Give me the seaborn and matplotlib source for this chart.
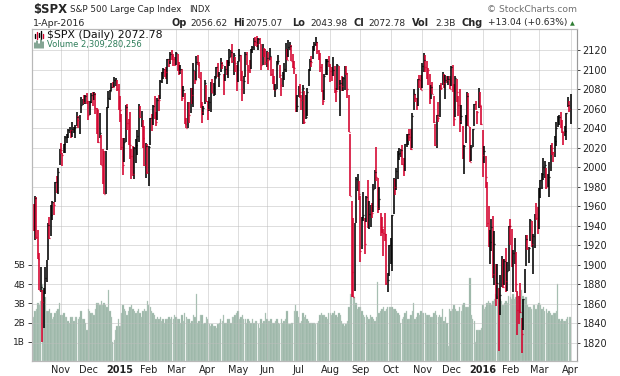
import numpy as np
import pandas as pd
import matplotlib
matplotlib.use("Agg")
import matplotlib.pyplot as plt
import seaborn as sns

# trading calendar (Oct 7 2014 -> Apr 1 2016)
holidays = ["2014-11-27", "2014-12-25", "2015-01-01", "2015-01-19", "2015-02-16",
            "2015-04-03", "2015-05-25", "2015-07-03", "2015-09-07", "2015-11-26",
            "2015-12-25", "2016-01-01", "2016-01-18", "2016-02-15", "2016-03-25"]

prev_close = 1964.82  # close of the day before the first bar

closes = [
    # Oct 2014
    1935.1, 1968.9, 1928.2, 1906.1, 1874.7, 1877.7, 1862.5, 1862.8, 1886.8, 1904.0,
    1941.3, 1927.1, 1950.8, 1964.6, 1961.6, 1985.1, 1982.3, 1994.7, 2018.1,
    # Nov 2014
    2017.8, 2012.1, 2023.6, 2031.2, 2031.9, 2038.3, 2039.7, 2038.3, 2039.3, 2039.8,
    2041.3, 2051.8, 2048.7, 2052.8, 2063.5, 2069.4, 2067.0, 2072.8, 2067.6,
    # Dec 2014
    2053.4, 2066.6, 2074.3, 2071.9, 2075.4, 2060.3, 2059.8, 2026.1, 2035.3, 2002.3,
    1989.6, 1972.7, 2012.9, 2061.2, 2070.7, 2078.5, 2082.2, 2081.9, 2088.8, 2090.6,
    2080.4, 2058.9,
    # Jan 2015
    2058.2, 2020.6, 2002.6, 2025.9, 2062.1, 2044.8, 2028.3, 2023.0, 2011.3, 1992.7,
    2019.4, 2022.6, 2032.1, 2063.2, 2051.8, 2057.1, 2029.6, 2002.2, 2021.3, 1995.0,
    # Feb 2015
    2020.9, 2050.0, 2041.5, 2062.5, 2055.5, 2046.7, 2068.6, 2068.5, 2088.5, 2097.0,
    2100.3, 2099.7, 2097.5, 2110.3, 2109.7, 2115.5, 2113.9, 2110.7, 2104.5,
    # Mar 2015
    2117.4, 2107.8, 2098.5, 2101.0, 2071.3, 2079.4, 2044.2, 2040.2, 2066.0, 2053.4,
    2081.2, 2074.3, 2099.5, 2089.3, 2108.1, 2104.4, 2091.5, 2061.1, 2056.2, 2061.0,
    2086.2, 2067.9,
    # Apr 2015
    2059.7, 2067.0, 2080.6, 2076.3, 2081.9, 2091.2, 2102.1, 2092.4, 2095.8, 2106.6,
    2105.0, 2081.2, 2100.4, 2097.3, 2108.0, 2112.9, 2117.7, 2108.9, 2114.8, 2106.9,
    2085.5,
    # May 2015
    2108.3, 2114.5, 2089.5, 2080.2, 2088.0, 2116.1, 2105.3, 2099.9, 2098.5, 2121.1,
    2122.7, 2129.2, 2127.8, 2125.9, 2130.8, 2126.1, 2104.2, 2123.5, 2120.8, 2107.4,
    # Jun 2015
    2111.7, 2109.6, 2114.1, 2095.8, 2092.8, 2079.3, 2080.2, 2105.2, 2108.9, 2094.1,
    2084.4, 2096.3, 2100.4, 2121.2, 2110.0, 2122.9, 2124.2, 2108.6, 2102.3, 2101.5,
    2057.6, 2063.1,
    # Jul 2015
    2077.4, 2076.8, 2068.8, 2081.3, 2046.7, 2051.3, 2076.6, 2099.6, 2109.0, 2107.4,
    2124.3, 2126.6, 2128.3, 2119.2, 2114.2, 2102.2, 2079.7, 2067.6, 2093.3, 2108.6,
    2108.6, 2104.0,
    # Aug 2015
    2098.0, 2093.3, 2099.8, 2083.6, 2077.6, 2104.2, 2084.1, 2086.1, 2083.4, 2091.5,
    2102.4, 2096.9, 2079.6, 2035.7, 1970.9, 1893.2, 1867.6, 1940.5, 1987.7, 1988.9,
    1972.2,
    # Sep 2015
    1913.9, 1948.9, 1951.1, 1921.2, 1969.4, 1942.0, 1952.3, 1961.1, 1953.0, 1978.1,
    1995.3, 1990.2, 1958.0, 1967.0, 1942.7, 1938.8, 1932.2, 1931.3, 1881.8, 1884.1,
    1920.0,
    # Oct 2015
    1923.8, 1951.4, 1987.0, 1979.9, 1995.8, 2013.4, 2014.9, 2017.5, 2003.7, 1994.2,
    2023.9, 2033.1, 2033.7, 2030.8, 2018.9, 2052.5, 2075.2, 2071.2, 2065.9, 2090.4,
    2089.4, 2079.4,
    # Nov 2015
    2104.1, 2109.8, 2102.3, 2099.9, 2099.2, 2078.6, 2081.7, 2075.0, 2046.0, 2023.0,
    2053.2, 2050.4, 2083.6, 2081.2, 2089.2, 2086.6, 2089.1, 2088.9, 2090.1, 2080.4,
    # Dec 2015
    2102.6, 2079.5, 2049.6, 2091.7, 2077.1, 2063.6, 2047.6, 2052.2, 2012.4, 2021.9,
    2043.4, 2073.1, 2041.9, 2005.6, 2021.2, 2039.0, 2064.3, 2061.0, 2056.5, 2078.4,
    2063.4, 2043.9,
    # Jan 2016
    2012.7, 2016.7, 1990.3, 1943.1, 1922.0, 1923.7, 1938.7, 1890.3, 1921.8, 1880.3,
    1881.3, 1859.3, 1869.0, 1906.9, 1877.1, 1903.6, 1883.0, 1893.4, 1940.2,
    # Feb 2016
    1939.4, 1903.0, 1912.5, 1915.4, 1880.1, 1853.4, 1852.2, 1851.9, 1829.1, 1864.8,
    1895.6, 1926.8, 1917.8, 1917.8, 1945.5, 1921.3, 1929.8, 1951.7, 1948.1, 1932.2,
    # Mar 2016
    1978.4, 1986.5, 1993.4, 2000.0, 2001.8, 1979.3, 1989.3, 1989.6, 2022.2, 2019.6,
    2015.9, 2027.2, 2040.6, 2049.6, 2051.6, 2049.8, 2036.7, 2035.9, 2037.1, 2055.0,
    2064.0, 2059.7,
    # Apr 2016
    2072.8,
]

highs = [
    # Oct 2014
    1962.4, 1970.4, 1970.0, 1936.0, 1912.0, 1898.0, 1874.1, 1876.0, 1898.0, 1905.0,
    1942.5, 1949.3, 1961.0, 1965.3, 1964.6, 1985.2, 1991.4, 1999.4, 2018.2,
    # Nov 2014
    2024.5, 2015.0, 2023.8, 2031.6, 2034.3, 2038.7, 2041.3, 2038.6, 2046.2, 2041.3,
    2043.7, 2056.1, 2052.1, 2053.8, 2071.5, 2070.2, 2074.2, 2074.0, 2075.8,
    # Dec 2014
    2067.3, 2068.2, 2076.3, 2077.3, 2077.3, 2075.8, 2060.6, 2058.8, 2055.5, 2033.0,
    2018.7, 2016.9, 2016.3, 2061.2, 2077.9, 2078.8, 2086.7, 2087.6, 2092.7, 2091.5,
    2089.1, 2085.6,
    # Jan 2015
    2072.4, 2054.4, 2030.3, 2029.6, 2064.1, 2064.4, 2049.3, 2056.9, 2018.4, 2021.4,
    2020.5, 2028.9, 2038.3, 2064.6, 2062.9, 2057.6, 2047.9, 2042.5, 2024.6, 2023.3,
    # Feb 2015
    2021.7, 2050.3, 2054.7, 2063.6, 2072.4, 2056.8, 2070.9, 2073.5, 2089.0, 2097.0,
    2101.3, 2100.2, 2102.1, 2111.0, 2110.6, 2117.9, 2119.6, 2115.5, 2112.7,
    # Mar 2015
    2117.5, 2115.8, 2107.7, 2104.3, 2100.9, 2083.5, 2076.2, 2050.1, 2066.4, 2066.4,
    2081.4, 2080.6, 2106.9, 2098.7, 2113.9, 2114.9, 2107.6, 2097.4, 2067.2, 2062.8,
    2089.0, 2084.1,
    # Apr 2015
    2067.3, 2072.2, 2087.0, 2089.8, 2086.7, 2093.3, 2102.6, 2107.0, 2097.3, 2111.9,
    2107.9, 2095.1, 2103.9, 2109.6, 2110.0, 2120.9, 2120.5, 2125.9, 2116.6, 2113.2,
    2105.1,
    # May 2015
    2108.4, 2121.0, 2115.2, 2098.3, 2092.9, 2117.7, 2117.7, 2105.1, 2110.2, 2121.5,
    2123.9, 2131.8, 2133.0, 2134.7, 2131.8, 2132.2, 2126.2, 2126.2, 2122.3, 2120.7,
    # Jun 2015
    2119.2, 2117.6, 2121.9, 2112.9, 2101.0, 2093.8, 2085.7, 2109.0, 2115.0, 2104.9,
    2091.1, 2097.4, 2106.8, 2126.7, 2121.2, 2129.9, 2127.9, 2125.1, 2116.0, 2108.3,
    2095.6, 2074.3,
    # Jul 2015
    2082.8, 2085.1, 2074.2, 2083.7, 2077.6, 2074.3, 2081.3, 2100.7, 2111.0, 2114.2,
    2124.4, 2128.0, 2132.8, 2128.0, 2120.3, 2117.4, 2106.0, 2078.7, 2095.6, 2110.6,
    2110.5, 2114.2,
    # Aug 2015
    2105.7, 2102.5, 2112.7, 2103.3, 2081.5, 2105.4, 2103.2, 2089.1, 2092.9, 2092.8,
    2103.5, 2103.5, 2096.2, 2073.6, 2034.1, 1965.2, 1948.0, 1943.1, 1989.6, 1993.5,
    1986.0,
    # Sep 2015
    1970.1, 1948.9, 1975.0, 1947.8, 1970.9, 1986.7, 1965.7, 1961.1, 1963.1, 1983.0,
    1997.3, 2020.9, 1989.4, 1979.6, 1952.9, 1949.5, 1937.2, 1952.9, 1931.4, 1891.3,
    1920.5,
    # Oct 2015
    1927.2, 1951.4, 1989.2, 1987.9, 1999.4, 2016.5, 2020.1, 2018.7, 2022.3, 2009.6,
    2024.2, 2033.5, 2034.5, 2039.1, 2038.7, 2055.2, 2079.7, 2075.1, 2070.4, 2090.4,
    2094.3, 2094.3,
    # Nov 2015
    2106.2, 2116.5, 2114.6, 2108.8, 2101.9, 2095.0, 2083.7, 2086.9, 2072.8, 2044.6,
    2053.2, 2066.7, 2084.1, 2086.7, 2097.1, 2095.6, 2094.1, 2093.0, 2093.3, 2093.8,
    # Dec 2015
    2103.4, 2104.3, 2085.0, 2093.8, 2090.4, 2073.4, 2080.3, 2064.0, 2042.7, 2022.9,
    2053.2, 2076.7, 2076.4, 2040.8, 2022.9, 2039.5, 2064.7, 2067.4, 2057.8, 2081.6,
    2077.3, 2062.5,
    # Jan 2016
    2038.2, 2021.9, 2011.7, 1985.3, 1960.4, 1935.7, 1947.4, 1950.3, 1934.5, 1900.9,
    1901.4, 1876.2, 1889.9, 1908.9, 1906.3, 1905.9, 1917.0, 1903.0, 1940.2,
    # Feb 2016
    1947.2, 1937.1, 1914.9, 1927.4, 1913.1, 1873.2, 1868.3, 1881.6, 1845.9, 1864.8,
    1895.8, 1930.7, 1930.7, 1918.8, 1946.7, 1945.0, 1932.1, 1951.8, 1963.0, 1959.7,
    # Mar 2016
    1978.4, 1986.5, 1993.7, 2009.1, 2006.5, 1999.1, 1992.7, 2005.1, 2022.4, 2024.6,
    2015.9, 2032.0, 2046.6, 2052.4, 2053.9, 2056.6, 2048.0, 2036.0, 2042.7, 2055.9,
    2072.2, 2067.5,
    # Apr 2016
    2075.1,
]

lows = [
    # Oct 2014
    1935.1, 1925.3, 1927.0, 1906.0, 1874.1, 1872.0, 1820.7, 1835.0, 1870.0, 1882.0,
    1905.0, 1926.0, 1930.0, 1946.0, 1951.0, 1964.0, 1974.0, 1973.0, 2002.0,
    # Nov 2014
    2013.7, 2001.0, 2014.2, 2015.0, 2025.0, 2030.0, 2035.0, 2030.2, 2031.0, 2035.0,
    2030.2, 2042.0, 2040.3, 2034.3, 2056.0, 2064.0, 2065.0, 2065.0, 2065.0,
    # Dec 2014
    2048.0, 2053.0, 2066.0, 2063.0, 2069.0, 2054.0, 2034.2, 2024.3, 2030.0, 2002.3,
    1982.3, 1972.6, 1973.0, 2018.0, 2061.0, 2069.0, 2078.0, 2081.0, 2082.0, 2083.0,
    2078.0, 2058.7,
    # Jan 2015
    2046.0, 2017.3, 1992.4, 2005.6, 2026.0, 2038.0, 2022.6, 2008.3, 1988.4, 1991.5,
    1988.1, 2004.5, 2012.0, 2026.0, 2050.5, 2040.9, 2019.9, 2001.5, 1989.2, 1993.4,
    # Feb 2015
    1980.9, 2022.7, 2036.7, 2043.5, 2049.0, 2041.9, 2048.6, 2058.0, 2070.0, 2086.7,
    2089.8, 2092.2, 2090.8, 2085.4, 2102.7, 2105.9, 2109.9, 2103.8, 2103.8,
    # Mar 2015
    2104.5, 2098.3, 2094.5, 2095.2, 2067.3, 2072.2, 2044.2, 2039.7, 2040.3, 2045.1,
    2055.3, 2065.1, 2061.2, 2085.6, 2089.7, 2104.4, 2091.5, 2061.1, 2045.5, 2053.0,
    2064.7, 2067.0,
    # Apr 2015
    2048.4, 2057.3, 2056.5, 2076.1, 2073.3, 2074.3, 2091.1, 2092.1, 2082.4, 2097.0,
    2100.1, 2073.8, 2088.5, 2094.4, 2091.0, 2103.2, 2112.7, 2107.0, 2094.9, 2097.4,
    2077.6,
    # May 2015
    2087.6, 2109.1, 2088.5, 2067.9, 2075.0, 2092.1, 2104.6, 2085.6, 2096.0, 2100.4,
    2116.8, 2120.0, 2124.5, 2122.6, 2120.0, 2126.1, 2099.2, 2105.1, 2112.8, 2104.9,
    # Jun 2015
    2102.5, 2099.1, 2109.6, 2093.2, 2085.7, 2079.1, 2072.1, 2080.0, 2105.6, 2091.2,
    2072.5, 2082.1, 2088.9, 2097.4, 2110.0, 2112.6, 2119.6, 2108.6, 2101.8, 2095.4,
    2056.6, 2056.3,
    # Jul 2015
    2071.5, 2071.0, 2058.4, 2044.0, 2044.7, 2049.2, 2052.9, 2082.9, 2098.2, 2102.5,
    2110.6, 2119.1, 2123.7, 2115.4, 2110.0, 2097.8, 2077.1, 2063.5, 2069.1, 2094.1,
    2094.1, 2102.1,
    # Aug 2015
    2087.3, 2088.6, 2093.8, 2075.5, 2067.0, 2078.9, 2079.0, 2052.1, 2078.3, 2078.3,
    2079.3, 2094.1, 2070.5, 2035.7, 1970.9, 1867.0, 1867.1, 1872.8, 1942.8, 1975.2,
    1966.0,
    # Sep 2015
    1903.1, 1916.5, 1944.7, 1911.2, 1944.2, 1937.8, 1937.2, 1939.2, 1948.3, 1954.0,
    1977.9, 1986.0, 1953.5, 1955.8, 1929.8, 1932.6, 1908.9, 1924.2, 1879.2, 1871.9,
    1888.9,
    # Oct 2015
    1900.7, 1893.7, 1951.6, 1971.1, 1976.3, 1987.5, 2007.6, 2010.6, 2001.8, 1990.7,
    1996.5, 2020.5, 2022.3, 2026.6, 2017.2, 2019.3, 2058.8, 2066.5, 2058.8, 2063.1,
    2081.2, 2079.3,
    # Nov 2015
    2080.8, 2097.5, 2097.0, 2090.4, 2083.7, 2064.4, 2069.9, 2074.9, 2045.7, 2022.0,
    2019.4, 2045.9, 2051.2, 2078.8, 2083.8, 2081.4, 2070.3, 2086.3, 2084.1, 2080.4,
    # Dec 2015
    2082.9, 2077.1, 2042.4, 2051.2, 2066.8, 2052.3, 2036.5, 2044.5, 2008.3, 1993.3,
    2025.2, 2042.4, 2041.7, 2005.3, 2005.9, 2020.6, 2042.7, 2058.7, 2044.2, 2060.7,
    2062.0, 2043.6,
    # Jan 2016
    1989.7, 2004.2, 1979.1, 1938.8, 1918.5, 1901.1, 1914.4, 1886.3, 1878.9, 1857.8,
    1864.6, 1812.3, 1849.0, 1877.5, 1876.0, 1878.9, 1872.7, 1873.7, 1894.1,
    # Feb 2016
    1920.3, 1897.8, 1872.6, 1900.5, 1872.7, 1828.5, 1839.2, 1850.3, 1810.1, 1833.6,
    1871.4, 1898.8, 1915.1, 1902.2, 1924.1, 1918.3, 1891.0, 1917.8, 1945.8, 1931.9,
    # Mar 2016
    1937.1, 1968.8, 1977.4, 1986.8, 1989.4, 1977.5, 1979.8, 1969.2, 1996.5, 2012.2,
    2005.2, 2010.0, 2022.2, 2041.3, 2043.1, 2040.6, 2034.9, 2022.5, 2032.0, 2028.3,
    2062.1, 2057.0,
    # Apr 2016
    2044.0,
]

# daily volume, billions of shares
volumes = [
    # Oct 2014
    2.3, 2.6, 2.7, 3.0, 2.9, 3.1, 4.0, 3.7, 3.3, 2.6, 2.6, 2.7, 2.5, 2.2, 2.3, 2.5, 2.6, 2.7, 3.0,
    # Nov 2014
    2.4, 2.4, 2.5, 2.3, 2.3, 2.1, 2.0, 2.3, 2.3, 2.1, 2.3, 2.3, 2.2, 2.3, 2.6, 2.2, 2.2, 2.0, 1.6,
    # Dec 2014
    2.7, 2.6, 2.5, 2.5, 2.4, 2.7, 3.0, 3.0, 2.9, 3.1, 2.9, 3.0, 2.9, 2.8, 3.7, 2.6, 2.3, 1.0, 1.1,
    1.6, 1.8, 2.2,
    # Jan 2015
    1.8, 2.5, 2.9, 2.7, 2.6, 2.4, 2.6, 2.8, 2.9, 2.7, 2.6, 2.5, 2.6, 2.7, 2.5, 2.3, 2.6, 2.7, 2.6, 3.1,
    # Feb 2015
    2.9, 2.8, 2.6, 2.5, 2.4, 2.2, 2.3, 2.2, 2.3, 2.1, 2.2, 2.0, 2.2, 2.2, 2.3, 2.2, 2.3, 2.2, 2.4,
    # Mar 2015
    2.3, 2.2, 2.2, 2.0, 2.4, 2.1, 2.5, 2.3, 2.2, 2.2, 2.0, 2.1, 2.4, 2.3, 3.5, 2.0, 2.1, 2.4, 2.4,
    1.9, 2.0, 2.3,
    # Apr 2015
    2.2, 1.9, 1.8, 1.9, 1.8, 1.8, 1.7, 1.9, 2.0, 2.2, 2.1, 2.4, 2.0, 2.0, 2.2, 2.2, 2.0, 2.3, 2.3,
    2.4, 2.5,
    # May 2015
    2.6, 2.2, 2.3, 2.4, 2.2, 2.2, 2.0, 2.2, 2.1, 2.0, 2.2, 2.0, 2.1, 2.1, 1.9, 1.7, 2.2, 2.0, 2.1, 2.5,
    # Jun 2015
    2.2, 2.1, 2.1, 2.2, 2.0, 2.0, 2.1, 2.2, 2.0, 1.9, 2.2, 2.0, 2.1, 2.2, 2.6, 1.9, 1.9, 2.0, 2.0,
    2.6, 2.9, 2.6,
    # Jul 2015
    2.3, 2.0, 2.1, 2.5, 2.3, 2.4, 2.2, 2.1, 2.0, 2.0, 2.0, 2.0, 1.9, 2.0, 2.1, 2.4, 2.5, 2.4, 2.4,
    2.3, 2.2, 2.5,
    # Aug 2015
    2.5, 2.4, 2.5, 2.6, 2.4, 2.3, 2.5, 2.4, 2.1, 1.9, 1.8, 1.9, 2.1, 2.8, 3.5, 3.5, 3.4, 3.3, 3.0,
    2.7, 2.8,
    # Sep 2015
    2.8, 2.6, 2.4, 2.3, 2.4, 2.3, 2.2, 2.4, 2.3, 2.2, 2.1, 2.3, 4.1, 2.5, 2.6, 2.7, 2.8, 2.6, 2.7,
    2.8, 2.8,
    # Oct 2015
    2.8, 2.8, 2.7, 2.7, 2.6, 2.5, 2.4, 2.0, 2.2, 2.3, 2.5, 2.6, 2.2, 2.2, 2.4, 2.6, 3.0, 2.2, 2.3,
    2.5, 2.4, 2.6,
    # Nov 2015
    2.5, 2.5, 2.5, 2.4, 2.4, 2.4, 2.3, 2.3, 2.5, 2.6, 2.4, 2.3, 2.4, 2.3, 2.7, 2.1, 2.3, 2.0, 0.8, 2.7,
    # Dec 2015
    2.6, 2.7, 2.9, 2.7, 2.6, 2.6, 2.8, 2.6, 2.9, 3.0, 2.8, 2.8, 2.8, 4.3, 2.4, 2.2, 2.1, 1.0, 1.6,
    1.6, 1.6, 1.7,
    # Jan 2016
    2.9, 2.7, 2.8, 3.0, 3.1, 3.0, 2.9, 3.1, 3.2, 3.5, 3.4, 3.8, 3.2, 3.1, 2.9, 3.0, 3.1, 3.0, 3.4,
    # Feb 2016
    3.3, 3.2, 3.5, 3.2, 3.3, 3.6, 3.4, 3.3, 3.7, 3.4, 3.2, 3.3, 2.9, 2.8, 2.8, 2.7, 2.9, 2.9, 2.7, 2.9,
    # Mar 2016
    3.0, 2.9, 2.7, 2.8, 2.6, 2.7, 2.5, 2.6, 2.5, 2.4, 2.5, 2.5, 2.6, 4.0, 2.2, 2.1, 2.2, 2.1, 2.1,
    2.2, 2.3, 2.3,
    # Apr 2016
    2.31,
]

price_ticks = list(range(1820, 2121, 20))
volume_ticks = [1, 2, 3, 4, 5]
volume_labels = ["1B", "2B", "3B", "4B", "5B"]

header_items = [("Op", "2056.62"), ("Hi", "2075.07"), ("Lo", "2043.98"),
                ("Cl", "2072.78"), ("Vol", "2.3B"), ("Chg", "+13.04 (+0.63%)")]

# ---------------------------------------------------------------
dates = pd.bdate_range("2014-10-07", "2016-04-01")
dates = dates[~dates.isin(pd.to_datetime(holidays))]
n = len(dates)
assert n == len(closes) == len(highs) == len(lows) == len(volumes)

pos = np.arange(n)
prev = np.r_[prev_close, closes[:-1]]
RED = "#d4002c"
colors = np.where(np.array(closes) >= prev, "black", RED)

month_start = pd.Series(pos, index=dates).groupby([dates.year, dates.month]).first()
month_pos = month_start.values[1:]
month_names = []
for (yr, mo) in month_start.index[1:]:
    month_names.append(str(yr) if mo == 1 else pd.Timestamp(yr, mo, 1).strftime("%b"))

sns.set_style("white")
plt.rcParams['font.family'] = ['DejaVu Sans']

W, H = 620, 376
fig = plt.figure(figsize=(W / 100, H / 100), dpi=100)
ax_v = fig.add_axes([32 / W, 15 / H, 545 / W, 332 / H])
ax_p = ax_v.twinx()

# volume
vol_df = pd.DataFrame({"pos": pos, "vol": volumes})
sns.barplot(data=vol_df, x="pos", y="vol", native_scale=True, color="#97b3a4",
            saturation=1, width=0.95, errorbar=None, edgecolor="#c3d3ca",
            linewidth=0.25, ax=ax_v)
ax_v.set_ylim(0, 17.25)
ax_v.set_yticks(volume_ticks)
ax_v.set_yticklabels(volume_labels)
ax_v.set_xlabel("")
ax_v.set_ylabel("")

# price bars
ax_p.vlines(pos, lows, highs, colors=colors, lw=1.15, zorder=3)
ax_p.hlines(closes, pos, pos + 0.55, colors=colors, lw=0.9, zorder=3)
ax_p.set_ylim(1801.6, 2141.5)
ax_p.set_yticks(price_ticks)
ax_p.yaxis.grid(True, color="#bdbdbd", lw=0.7, alpha=0.5)
ax_p.set_axisbelow(True)
for m in month_pos:
    ax_p.axvline(m, color="#bdbdbd", lw=0.7, alpha=0.5, zorder=0)

ax_v.set_xlim(-1.1, n - 1 + 4.4)
ax_v.set_xticks(month_pos)
ax_v.set_xticklabels(month_names)
for lab in ax_v.get_xticklabels():
    if lab.get_text().isdigit():
        lab.set_fontweight("bold")
        lab.set_fontsize(7.5)

ax_v.tick_params(axis="x", length=0, pad=3, labelsize=7, colors="#222222")
ax_v.tick_params(axis="y", length=3, width=0.6, pad=2, labelsize=6.5,
                 colors="#222222", direction="out")
ax_p.tick_params(axis="y", length=2, width=0.6, pad=2, labelsize=7,
                 colors="#222222", direction="out")

for a in (ax_v, ax_p):
    for s in a.spines.values():
        s.set_color("#b8b8b8")
        s.set_linewidth(0.8)
ax_p.spines["right"].set_color("#9a9a9a")
ax_p.spines["right"].set_linestyle((0, (1, 1)))


def px(x, y):
    return x / W, 1 - y / H


# header
fig.text(*px(33, 9), "$SPX", fontsize=8.4, fontweight="bold", va="center")
fig.text(*px(70, 9.5), "S&P 500 Large Cap Index", fontsize=6.3, va="center")
fig.text(*px(189, 9.5), "INDX", fontsize=6.0, va="center")
fig.text(*px(577, 9.5), "\u00a9 StockCharts.com", fontsize=6.6, va="center",
         ha="right", color="#6f6f6f")
fig.text(*px(33, 23), "1-Apr-2016", fontsize=6.8, va="center")

label_x = [172, 233, 292, 353, 412, 462]
value_x = [190, 245, 310, 368, 435, 488]
for (lab, val), lx, vx in zip(header_items, label_x, value_x):
    fig.text(*px(lx, 23), lab, fontsize=7.0, fontweight="bold", va="center")
    fig.text(*px(vx, 23), val, fontsize=6.5, va="center")
fig.text(*px(570, 23.5), "\u25b2", fontsize=4.5, va="center", color="#2e7d32")

# legend inside the plot
fig.text(*px(47, 35.5), "$SPX (Daily) 2072.78", fontsize=7.8, va="center", color="#111111")
fig.text(*px(47, 44.5), "Volume 2,309,280,256", fontsize=6.0, va="center", color="#2e7d5a")
for dx, y0, y1, c in [(35, 34, 38, "black"), (37, 32, 39, RED), (39, 33, 37, "black"),
                      (41, 31, 39, "black"), (43, 34, 38, RED)]:
    fig.add_artist(plt.Line2D([dx / W, dx / W], [1 - y1 / H, 1 - y0 / H],
                              color=c, lw=1.0, transform=fig.transFigure))
for dx, y0 in [(35, 43), (37, 41), (39, 44), (41, 40), (43, 42)]:
    fig.add_artist(plt.Line2D([dx / W, dx / W], [1 - 48 / H, 1 - y0 / H],
                              color="#5f8a74", lw=1.1, transform=fig.transFigure))

fig.savefig("out.png", dpi=100)
